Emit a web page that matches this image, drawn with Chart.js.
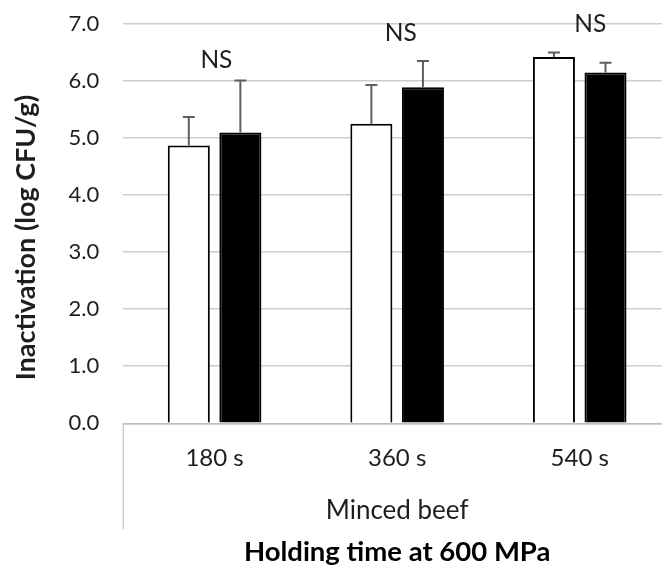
<!DOCTYPE html>
<html>
<head>
<meta charset="utf-8">
<script src="https://cdn.jsdelivr.net/npm/chart.js@4.4.1/dist/chart.umd.min.js"></script>
<style>
  html, body { margin: 0; padding: 0; background: #fff; overflow: hidden; }
  #wrap { position: relative; width: 671px; height: 580px; }
</style>
</head>
<body>
<div id="wrap"><canvas id="c"></canvas></div>
<script>
// ---- data ----
const categories = ['180 s', '360 s', '540 s'];
const groupLabels = ['Minced beef'];
const whiteValues = [4.87, 5.25, 6.42];
const blackValues = [5.10, 5.89, 6.15];
const whiteErrors = [0.50, 0.68, 0.08];
const blackErrors = [0.91, 0.46, 0.17];
const nsLabels = ['NS', 'NS', 'NS'];
const nsLevels = [6.37, 6.84, 7.00];
const yMin = 0, yMax = 7, yStep = 1;
const xTitle = 'Holding time at 600 MPa';
const yTitle = 'Inactivation (log CFU/g)';

const FONT = 'Lato, "Open Sans", sans-serif';
const TEXT = '#1e1e1e';

const errorBars = {
  id: 'errorBars',
  afterDatasetsDraw(chart) {
    const ctx = chart.ctx, y = chart.scales.y;
    chart.data.datasets.forEach((ds, i) => {
      const meta = chart.getDatasetMeta(i);
      meta.data.forEach((el, j) => {
        const top = y.getPixelForValue(ds.data[j] + ds.errors[j]);
        ctx.save();
        ctx.strokeStyle = '#5f5f5f';
        ctx.lineWidth = 2;
        ctx.beginPath();
        ctx.moveTo(el.x, el.y);
        ctx.lineTo(el.x, top);
        ctx.moveTo(el.x - 6, top);
        ctx.lineTo(el.x + 6, top);
        ctx.stroke();
        ctx.restore();
      });
    });
  }
};

const extras = {
  id: 'extras',
  afterDraw(chart, args, opts) {
    const ctx = chart.ctx, x = chart.scales.x, y = chart.scales.y, x2 = chart.scales.x2;
    const area = chart.chartArea;
    const catW = (x.right - x.left) / categories.length;
    ctx.save();
    // NS annotations
    ctx.fillStyle = TEXT;
    ctx.font = '24.5px ' + FONT;
    ctx.textAlign = 'center';
    ctx.textBaseline = 'middle';
    nsLabels.forEach((t, i) => {
      ctx.fillText(t, x.getPixelForValue(i) + opts.nsShift[i] * catW, y.getPixelForValue(nsLevels[i]));
    });
    // y title
    ctx.font = 'bold 27px ' + FONT;
    ctx.translate(opts.yTitleX, (area.top + area.bottom) / 2 + opts.yTitleShift);
    ctx.rotate(-Math.PI / 2);
    ctx.fillText(yTitle, 0, 0);
    ctx.restore();
    // left boundary of the category label box
    ctx.save();
    ctx.strokeStyle = '#c4c4c4';
    ctx.lineWidth = 1.3;
    ctx.beginPath();
    ctx.moveTo(area.left, area.bottom);
    ctx.lineTo(area.left, x2.top + opts.boxDepth);
    ctx.stroke();
    ctx.restore();
  }
};

new Chart(document.getElementById('c'), {
  type: 'bar',
  data: {
    labels: categories,
    datasets: [
      { label: 'Series A', data: whiteValues, errors: whiteErrors,
        backgroundColor: '#ffffff', borderColor: '#000000', borderWidth: 2,
        categoryPercentage: 0.565, barPercentage: 0.815 },
      { label: 'Series B', data: blackValues, errors: blackErrors,
        backgroundColor: '#000000', borderColor: '#000000', borderWidth: 2,
        categoryPercentage: 0.565, barPercentage: 0.815 }
    ]
  },
  options: {
    responsive: true,
    maintainAspectRatio: false,
    animation: false,
    layout: { padding: { top: 24, left: 0, right: 0, bottom: 0 } },
    plugins: {
      legend: { display: false },
      tooltip: { enabled: false },
      extras: { nsShift: [0.01, 0.02, 0.058], yTitleX: 26, yTitleShift: 14, boxDepth: 42 }
    },
    scales: {
      y: {
        min: yMin, max: yMax,
        ticks: { stepSize: yStep, padding: 24, color: TEXT,
                 font: { family: FONT, size: 22 },
                 callback: v => Number(v).toFixed(1) },
        grid: { color: '#cdcdcd', lineWidth: 1.6, drawTicks: false },
        border: { display: false },
        afterFit(s) { s.width = 123.3; s.paddingTop = 0; s.paddingBottom = 0; }
      },
      x: {
        weight: 0,
        ticks: { padding: 20.3, color: TEXT, font: { family: FONT, size: 24 } },
        grid: { display: false, drawTicks: false },
        border: { display: true, color: '#bdbdbd', width: 1.6 },
        afterFit(s) { s.height = 64; s.paddingLeft = 0; s.paddingRight = 0; }
      },
      x2: {
        type: 'category',
        position: 'bottom',
        weight: 1,
        labels: groupLabels,
        offset: true,
        ticks: { padding: 8, color: TEXT, font: { family: FONT, size: 26 } },
        grid: { display: false, drawTicks: false },
        border: { display: false },
        title: { display: true, text: xTitle, color: '#000000',
                 font: { family: FONT, size: 27.5, weight: 'bold' },
                 padding: { top: 0, bottom: 11.5 } },
        afterFit(s) { s.height = 92.7; s.paddingLeft = 0; s.paddingRight = 0; }
      }
    }
  },
  plugins: [errorBars, extras]
});
</script>
</body>
</html>
